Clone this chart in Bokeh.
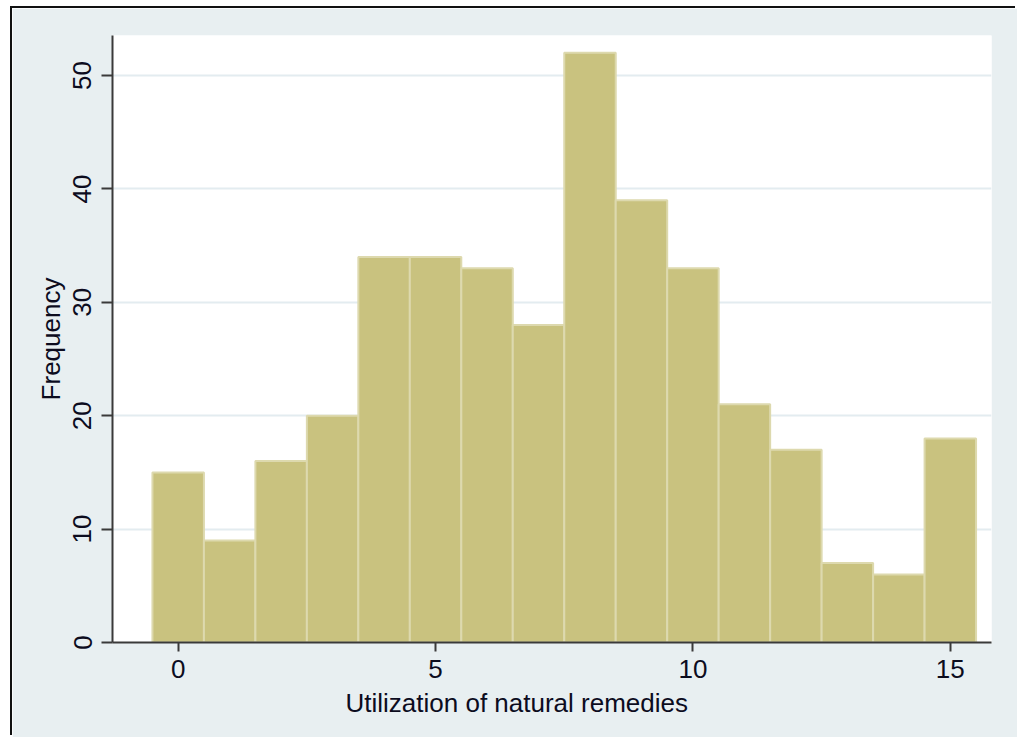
from bokeh.plotting import figure
from bokeh.models import Range1d, FixedTicker, Title
from bokeh.embed import file_html
from bokeh.resources import INLINE

# Data
bin_centers = [0, 1, 2, 3, 4, 5, 6, 7, 8, 9, 10, 11, 12, 13, 14, 15]
frequencies = [15, 9, 16, 20, 34, 34, 33, 28, 52, 39, 33, 21, 17, 7, 6, 18]
bin_width = 1.0
x_ticks = [0, 5, 10, 15]
y_ticks = [0, 10, 20, 30, 40, 50]
x_title = "Utilization of natural remedies"
y_title = "Frequency"

FONT = "Liberation Sans"
TXT = "#0c0c1e"

p = figure(
    width=1005, height=729,
    output_backend="svg", toolbar_location=None,
    x_range=Range1d(-1.276, 15.80), y_range=Range1d(0, 53.53),
    min_border_left=100, min_border_right=26,
    min_border_top=27, min_border_bottom=95,
)
p.styles = {
    "margin-left": "12px", "margin-top": "8px",
    "box-shadow": "-2px -2px 0 0 #111111",
}

p.background_fill_color = "white"
p.border_fill_color = "#E8EFF1"
p.outline_line_color = None

p.vbar(x=bin_centers, top=frequencies, width=bin_width, bottom=0,
       fill_color="#C9C27F", line_color="#DDD9AE", line_width=2)

p.xgrid.visible = False
p.ygrid.grid_line_color = "#E3ECF0"
p.ygrid.grid_line_width = 2

for ax in (p.xaxis[0], p.yaxis[0]):
    ax.axis_line_color = "#3a3a3a"
    ax.axis_line_width = 2
    ax.major_tick_line_color = "#3a3a3a"
    ax.major_tick_line_width = 2
    ax.major_tick_in = 0
    ax.minor_tick_line_color = None
    ax.major_label_text_font = FONT
    ax.major_label_text_font_size = "26px"
    ax.major_label_text_color = TXT
    ax.axis_label_text_font = FONT
    ax.axis_label_text_font_size = "26px"
    ax.axis_label_text_font_style = "normal"
    ax.axis_label_text_color = TXT

xa = p.xaxis[0]
xa.ticker = FixedTicker(ticks=x_ticks)
xa.major_tick_out = 9
xa.major_label_standoff = 8

xt = Title(text=x_title, align="left", offset=233, standoff=10,
           text_font=FONT, text_font_size="26px", text_font_style="normal",
           text_color=TXT)
p.add_layout(xt, "below")

ya = p.yaxis[0]
ya.ticker = FixedTicker(ticks=y_ticks)
ya.major_tick_out = 11
ya.major_label_orientation = "vertical"
ya.major_label_standoff = 10
ya.axis_label = y_title
ya.axis_label_standoff = 5

open("out.html", "w").write(file_html(p, INLINE))
